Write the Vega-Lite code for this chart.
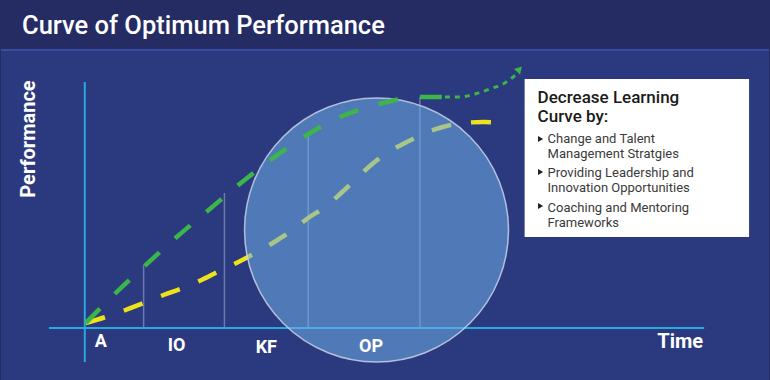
{
  "$schema": "https://vega.github.io/schema/vega-lite/v6.json",
  "width": 770,
  "height": 380,
  "autosize": {"type": "fit", "contains": "padding"},
  "padding": {"top": 14, "left": 0, "right": 0, "bottom": 0},
  "background": "#252b63",
  "title": {
    "text": "Curve of Optimum Performance",
    "anchor": "start",
    "frame": "bounds",
    "dx": 22,
    "fontSize": 25.5,
    "font": "Roboto",
    "fontWeight": 500,
    "color": "#ffffff",
    "baseline": "top",
    "offset": 9.5
  },
  "config": {"view": {"fill": "#2b3a7e", "stroke": null}},
  "datasets": {
    "green": [{"t":1,"p":5},{"t":31,"p":35},{"t":60,"p":62},{"t":91,"p":90},{"t":123,"p":117},{"t":154,"p":143},{"t":186,"p":168},{"t":221,"p":192},{"t":256,"p":211},{"t":295,"p":224},{"t":316,"p":229}],
    "yellow": [{"t":1,"p":5},{"t":21,"p":11},{"t":41,"p":18},{"t":59,"p":25},{"t":79,"p":33},{"t":98,"p":40},{"t":117,"p":48},{"t":135,"p":57},{"t":154,"p":66},{"t":171,"p":75},{"t":190,"p":86},{"t":207,"p":97},{"t":224,"p":110},{"t":241,"p":121},{"t":257,"p":135},{"t":272,"p":149},{"t":287,"p":163},{"t":303,"p":175},{"t":321,"p":185},{"t":339,"p":194},{"t":359,"p":201},{"t":379,"p":205},{"t":400,"p":206},{"t":420,"p":205}],
    "greenSeg": [{"t":336,"p":231},{"t":358,"p":231}],
    "dotted": [{"t":361,"p":231},{"t":376,"p":231},{"t":391,"p":234},{"t":406,"p":239},{"t":421,"p":245},{"t":432,"p":253}],
    "arrow": [{"t":435,"p":258}],
    "stages": [{"t":59,"p":63},{"t":140,"p":135},{"t":224,"p":195},{"t":336,"p":231}],
    "axes": [{"t":-36,"p":0,"t2":621,"p2":0},{"t":0,"p":246,"t2":0,"p2":-34}],
    "circle": [{"t":292.5,"p":98}],
    "stageLabels": [{"t":16,"p":-14,"label":"A"},{"t":92,"p":-18,"label":"IO"},{"t":182,"p":-20,"label":"KF"},{"t":287,"p":-19,"label":"OP"}],
    "timeLabel": [{"t":597,"p":-14,"label":"Time"}],
    "perfLabel": [{"t":-55.5,"p":189,"label":"Performance"}],
    "box": [{"t":441,"p":249,"t2":666,"p2":91}],
    "boxHead": [{"t":454,"p":225,"label":"Decrease Learning"},{"t":454,"p":206,"label":"Curve by:"}],
    "boxItems": [{"t":464,"p":185,"label":"Change and Talent"},{"t":464,"p":170,"label":"Management Stratgies"},{"t":464,"p":151,"label":"Providing Leadership and"},{"t":464,"p":136,"label":"Innovation Opportunities"},{"t":464,"p":116.5,"label":"Coaching and Mentoring"},{"t":464,"p":101.5,"label":"Frameworks"}],
    "bullets": [{"t":457,"p":189},{"t":457,"p":156},{"t":457,"p":122}],
    "sep": [{"t":-84,"p":278,"t2":686}]
  },
  "encoding": {
    "x": {"field": "t", "type": "quantitative", "scale": {"domain": [-84, 686], "nice": false, "zero": false}, "axis": null},
    "y": {"field": "p", "type": "quantitative", "scale": {"domain": [-52, 279], "nice": false, "zero": false}, "axis": null}
  },
  "layer": [
    {"data": {"name": "sep"}, "mark": {"type": "rule", "color": "#3a4a9e", "strokeWidth": 2}, "encoding": {"x2": {"field": "t2"}}},
    {"data": {"name": "stages"}, "mark": {"type": "rule", "color": "#6f78ad", "strokeWidth": 1.5}, "encoding": {"y2": {"datum": 0}}},
    {"data": {"name": "axes"}, "mark": {"type": "rule", "color": "#27a9e1", "strokeWidth": 2}, "encoding": {"x2": {"field": "t2"}, "y2": {"field": "p2"}}},
    {"data": {"name": "yellow"}, "mark": {"type": "line", "color": "#eee21b", "strokeWidth": 4.5, "strokeDash": [20, 20], "interpolate": "monotone", "strokeCap": "butt"}},
    {"data": {"name": "circle"}, "mark": {"type": "point", "shape": "circle", "filled": true, "size": 69696, "fill": "#70aee6", "fillOpacity": 0.55, "stroke": "#d0d7ee", "strokeWidth": 1.5, "strokeOpacity": 0.8}},
    {"data": {"name": "green"}, "mark": {"type": "line", "color": "#3cb54a", "strokeWidth": 4.5, "strokeDash": [20, 21], "interpolate": "monotone", "strokeCap": "butt"}},
    {"data": {"name": "greenSeg"}, "mark": {"type": "line", "color": "#3cb54a", "strokeWidth": 4.5, "strokeCap": "butt"}},
    {"data": {"name": "dotted"}, "mark": {"type": "line", "color": "#3cb54a", "strokeWidth": 3, "strokeDash": [5, 5], "interpolate": "monotone", "strokeCap": "butt"}},
    {"data": {"name": "arrow"}, "mark": {"type": "point", "shape": "triangle", "filled": true, "size": 70, "color": "#3cb54a", "opacity": 1, "angle": 43}},
    {"data": {"name": "stageLabels"}, "mark": {"type": "text", "font": "Roboto", "fontSize": 18, "fontWeight": "bold", "color": "#ffffff", "align": "center", "baseline": "middle"}, "encoding": {"text": {"field": "label"}}},
    {"data": {"name": "timeLabel"}, "mark": {"type": "text", "font": "Roboto", "fontSize": 20, "fontWeight": "bold", "color": "#ffffff", "align": "center", "baseline": "middle"}, "encoding": {"text": {"field": "label"}}},
    {"data": {"name": "perfLabel"}, "mark": {"type": "text", "font": "Roboto", "fontSize": 20, "fontWeight": "bold", "color": "#ffffff", "align": "center", "baseline": "middle", "angle": 270}, "encoding": {"text": {"field": "label"}}},
    {"data": {"name": "box"}, "mark": {"type": "rect", "fill": "#ffffff"}, "encoding": {"x2": {"field": "t2"}, "y2": {"field": "p2"}}},
    {"data": {"name": "boxHead"}, "mark": {"type": "text", "font": "Roboto", "fontSize": 17, "fontWeight": 500, "color": "#1a1a1a", "align": "left", "baseline": "alphabetic"}, "encoding": {"text": {"field": "label"}}},
    {"data": {"name": "boxItems"}, "mark": {"type": "text", "font": "Roboto", "fontSize": 13, "color": "#3a3a3a", "align": "left", "baseline": "alphabetic"}, "encoding": {"text": {"field": "label"}}},
    {"data": {"name": "bullets"}, "mark": {"type": "point", "shape": "triangle-right", "filled": true, "size": 36, "color": "#222222", "opacity": 1}}
  ]
}
